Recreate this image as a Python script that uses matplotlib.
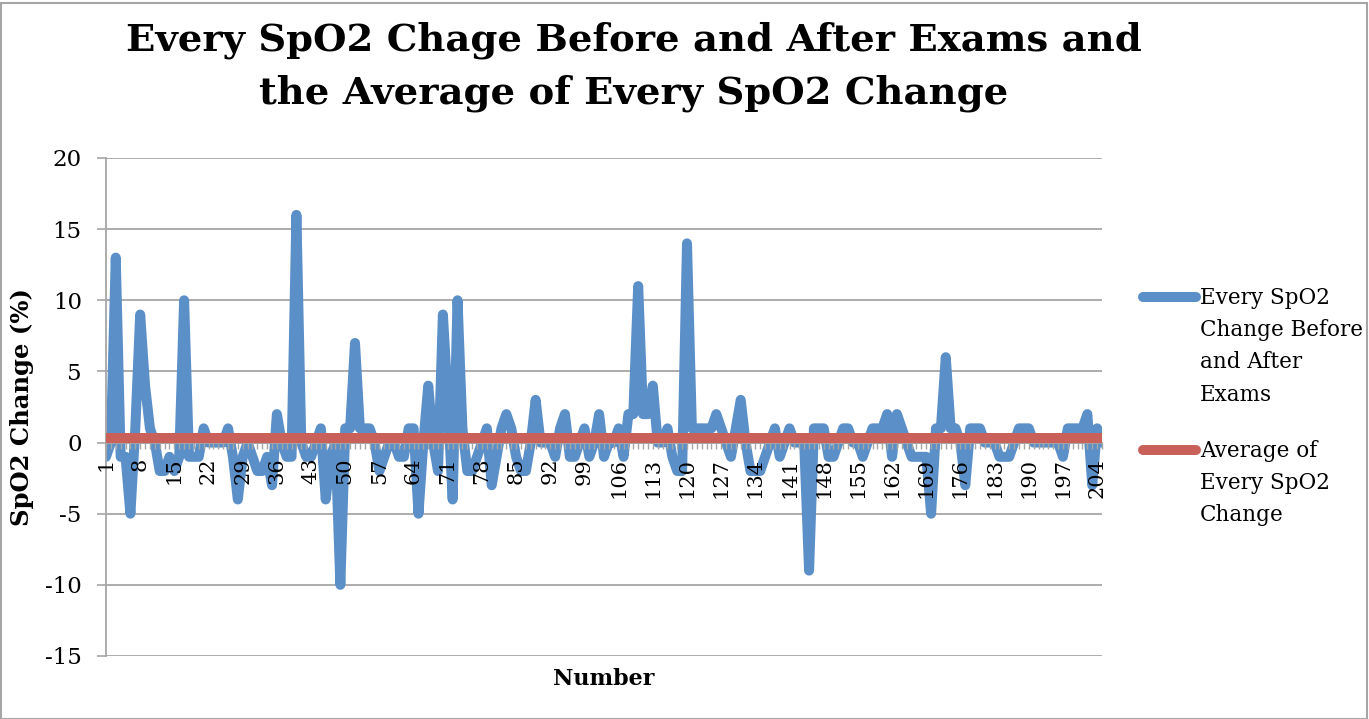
import matplotlib.pyplot as plt
import numpy as np
from matplotlib.lines import Line2D
from matplotlib.patches import Rectangle
from matplotlib.ticker import MultipleLocator

# SpO2 change (%) for each exam, in order
spo2_change = [
    -1, 0, 13, -1, -1, -5, 1, 9, 4, 1, 0, -2, -2, -1, -2, -1, 10, -1, -1, -1, 1, 0, 0, 0, 0,
    1, -1, -4, -1, 0, -1, -2, -2, -1, -3, 2, 0, -1, -1, 16, 0, -1, -1, 0, 1, -4, -1, 0, -10, 1,
    1, 7, 1, 1, 1, 0, -2, -1, 0, 0, -1, -1, 1, 1, -5, 0, 4, 0, -2, 9, 3, -4, 10, 1, -2,
    -2, -1, 0, 1, -3, -1, 1, 2, 1, -1, -2, -2, 0, 3, 0, 0, 0, -1, 1, 2, -1, -1, 0, 1, -1,
    0, 2, -1, 0, 0, 1, -1, 2, 2, 11, 2, 2, 4, 0, 0, 1, -1, -2, -2, 14, 1, 1, 1, 1, 1,
    2, 1, 0, -1, 1, 3, 0, -2, -2, -2, -1, 0, 1, -1, 0, 1, 0, 0, 0, -9, 1, 1, 1, -1, -1,
    0, 1, 1, 0, 0, -1, 0, 1, 1, 1, 2, -1, 2, 1, 0, -1, -1, -1, -1, -5, 1, 1, 6, 1, 1,
    0, -3, 1, 1, 1, 0, 0, 0, -1, -1, -1, 0, 1, 1, 1, 0, 0, 0, 0, 0, 0, -1, 1, 1, 1,
    1, 2, -3, 1, 0,
]
exam_no = np.arange(1, len(spo2_change) + 1)
average_change = 0.35
tick_numbers = list(range(1, len(spo2_change) + 1, 7))
y_ticks = list(range(-15, 21, 5))

blue = '#5B8FC8'
red = '#C9605A'
grey = '#A6A6A6'
W, H = 1369, 719

plt.rcParams['font.family'] = ['DejaVu Serif']
plt.rcParams['axes.unicode_minus'] = False
fig = plt.figure(figsize=(W / 100, H / 100), dpi=100)
ax = fig.add_axes([106 / W, 1 - 656 / H, (1102 - 106) / W, (656 - 158) / H])

# category axis sits on the zero line; move the spine before styling ticks
for side in ['top', 'right']:
    ax.spines[side].set_visible(False)
ax.spines['bottom'].set_position(('data', 0))
for side in ['left', 'bottom']:
    ax.spines[side].set_color(grey)
    ax.spines[side].set_linewidth(1.3)

# horizontal gridlines kept under the data, tick labels stay above the blue line
for yv in y_ticks:
    ax.axhline(yv, color=grey, lw=1.3, zorder=1)

ax.plot(exam_no, spo2_change, color=blue, lw=7.2,
        solid_joinstyle='round', solid_capstyle='round', zorder=2)
ax.plot(exam_no, [average_change] * len(exam_no), color=red, lw=7.2,
        solid_capstyle='round', zorder=3)

ax.set_xlim(1, len(spo2_change))
ax.set_ylim(-15, 20)
ax.set_yticks(y_ticks)
ax.set_xticks(tick_numbers)
ax.set_xticklabels([str(n) for n in tick_numbers], rotation=90, fontsize=15,
                   va='top', ha='center')
ax.xaxis.set_minor_locator(MultipleLocator(1))
ax.tick_params(axis='y', labelsize=16.5, length=6.5, width=1.2, color=grey, pad=11)
ax.tick_params(axis='x', which='both', length=4, width=1, color=grey, pad=7)
ax.set_axisbelow(False)

fig.text(634 / W, 1 - 67 / H,
         'Every SpO2 Chage Before and After Exams and\nthe Average of Every SpO2 Change',
         ha='center', va='center', fontsize=27.7, fontweight='bold', linespacing=1.55)
fig.text(22 / W, 1 - 407 / H, 'SpO2 Change (%)', rotation=90, ha='center', va='center',
         fontsize=17.5, fontweight='bold')
fig.text(604 / W, 1 - 679 / H, 'Number', ha='center', va='center',
         fontsize=16, fontweight='bold')

# legend drawn by hand so the swatch sits level with the first text line
legend_items = [(blue, 'Every SpO2\nChange Before\nand After\nExams', 297),
                (red, 'Average of\nEvery SpO2\nChange', 450)]
for color, label, y in legend_items:
    fig.add_artist(Line2D([1143 / W, 1196 / W], [1 - y / H, 1 - y / H],
                          transform=fig.transFigure, color=color, lw=7.2,
                          solid_capstyle='round'))
    fig.text(1200 / W, 1 - (y - 10) / H, label, ha='left', va='top',
             fontsize=15.5, linespacing=1.6)

fig.add_artist(Rectangle((0.5 / W, 0.5 / H), (W - 3) / W, (H - 3) / H,
                         transform=fig.transFigure, fill=False, ec=grey, lw=1.5))

fig.savefig('out.png', dpi=100)
